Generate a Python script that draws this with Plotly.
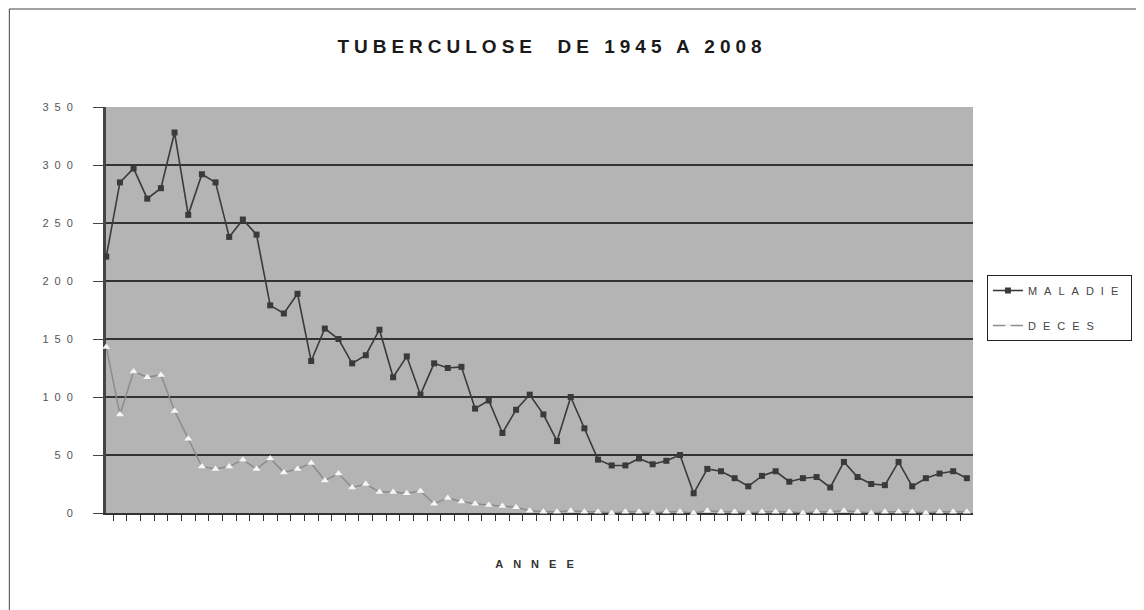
import plotly.graph_objects as go

years = list(range(1945, 2009))

maladie = [221, 285, 297, 271, 280, 328, 257, 292, 285, 238,
           253, 240, 179, 172, 189, 131, 159, 150, 129, 136,
           158, 117, 135, 102, 129, 125, 126, 90, 97, 69,
           89, 102, 85, 62, 100, 73, 46, 41, 41, 47,
           42, 45, 50, 17, 38, 36, 30, 23, 32, 36,
           27, 30, 31, 22, 44, 31, 25, 24, 44, 23,
           30, 34, 36, 30]

deces = [143, 85, 122, 117, 119, 88, 64, 40, 38, 40,
         46, 38, 47, 35, 38, 43, 28, 34, 22, 25,
         18, 18, 17, 19, 8, 13, 10, 8, 7, 6,
         5, 2, 1, 1, 2, 1, 1, 0, 1, 1,
         0, 1, 1, 0, 2, 1, 1, 0, 1, 1,
         1, 0, 1, 1, 2, 1, 0, 1, 1, 1,
         0, 1, 1, 1]

y_ticks = [0, 50, 100, 150, 200, 250, 300, 350]

title_text = "TUBERCULOSE  DE 1945 A 2008"
x_title = "ANNEE"
names = ["MALADIE", "DECES"]


def spaced(t, px):
    return f'<span style="letter-spacing:{px}px">{t}</span>'


# page body has an 8px margin: work in figure coords = window coords - 8
OFF = 8
W, H = 1144 - OFF, 610 - OFF
L, R, T, B = 106 - OFF, 976 - OFF, 107 - OFF, 513 - OFF


def px_x(X):
    return (X - OFF - L) / (R - L)


def px_y(Y):
    return (B - (Y - OFF)) / (B - T)


fig = go.Figure()
fig.add_trace(go.Scatter(
    x=years, y=maladie, name=spaced(names[0], 7), mode="lines+markers",
    legendgroup="a",
    line=dict(color="#3a3a3a", width=1.6),
    marker=dict(symbol="square", size=6, color="#3a3a3a"),
    cliponaxis=False,
))
fig.add_trace(go.Scatter(
    x=years, y=deces, name=spaced(names[1], 7), mode="lines+markers",
    legendgroup="b",
    line=dict(color="#8c8c8c", width=1.5),
    marker=dict(symbol="triangle-up", size=7, color="#f6f6f6"),
    cliponaxis=False,
))

fig.update_layout(
    width=W, height=H,
    margin=dict(l=L, r=W - R, t=T, b=H - B, pad=0),
    paper_bgcolor="white",
    plot_bgcolor="#b4b4b4",
    font=dict(family="Liberation Sans, Arial, sans-serif", color="#555555"),
    title=dict(
        text="<b>" + spaced(title_text, 5) + "</b>",
        x=(552 - OFF) / W, xref="container", xanchor="center",
        y=1 - (46 - OFF) / H, yref="container", yanchor="middle",
        font=dict(size=19, color="#1a1a1a",
                  family="Liberation Sans, Arial, sans-serif"),
    ),
    showlegend=True,
    legend=dict(
        x=px_x(990), xanchor="left",
        y=px_y(275), yanchor="top",
        bordercolor="#222222", borderwidth=1, bgcolor="white",
        font=dict(size=11, color="#444444"),
        itemwidth=30, tracegroupgap=16,
    ),
    xaxis=dict(
        range=[1944.98, 2008.45],
        showgrid=False, zeroline=False,
        showline=True, linecolor="#333333", linewidth=2,
        ticks="outside", ticklen=6, tickcolor="#333333", tickwidth=1,
        tick0=1945.5, dtick=1, showticklabels=False,
        layer="below traces",
        title=dict(text="<b>" + spaced(x_title, 10) + "</b>",
                   font=dict(size=11, color="#333333"), standoff=40),
    ),
    yaxis=dict(
        range=[0, 350],
        tickvals=y_ticks,
        ticktext=[spaced(str(v), 6) for v in y_ticks],
        showgrid=True, gridcolor="#333333", gridwidth=2,
        zeroline=False,
        showline=True, linecolor="#444444", linewidth=3,
        ticks="outside", ticklen=10, tickcolor="#444444", tickwidth=1,
        tickfont=dict(size=11, color="#555555"),
        ticklabelstandoff=12,
        layer="below traces",
    ),
    shapes=[dict(
        type="rect", xref="paper", yref="paper",
        x0=px_x(9), x1=px_x(1200),
        y0=px_y(650), y1=px_y(9),
        line=dict(color="#444444", width=1), fillcolor="rgba(0,0,0,0)",
        layer="below",
    )],
)

fig.write_html("out.html")
